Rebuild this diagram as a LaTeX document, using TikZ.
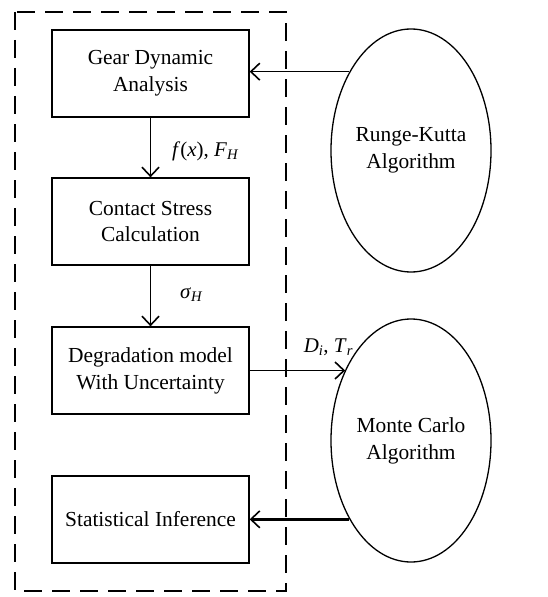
\documentclass[tikz,border=0pt]{standalone}
\usepackage{fontspec}
\setmainfont{Liberation Serif}
\usepackage{tikz}
\usetikzlibrary{arrows.meta,positioning,shapes.geometric}

\begin{document}
\begin{tikzpicture}
		[x=1bp,y=-1bp,
		block/.style={rectangle,draw=black,line width=1.3bp,
			minimum width=197bp,minimum height=87bp,inner sep=0pt,
			align=center,font=\fontsize{21.5}{27}\selectfont},
		algo/.style={ellipse,draw=black,line width=1.3bp,
			minimum width=160bp,minimum height=243bp,inner sep=0pt,
			align=center,font=\fontsize{21.5}{27}\selectfont},
		flow/.style={line width=1.3bp,-{Straight Barb[length=9bp,width=17bp,line width=1.6bp]}},
		lbl/.style={inner sep=0pt,font=\fontsize{21}{24}\selectfont}]
		\useasboundingbox (0,0) rectangle (548,597);
		%---------------------caja punteada------------
		\draw[line width=2bp,dash pattern=on 18bp off 10bp] (15,12) rectangle (286,591);
		%---------------------bloques------------
		\node[block] (gda) at (150.5,73.5) {Gear Dynamic\\Analysis};
		\node[block] (csc) at (150.5,221.5) {Contact Stress\\Calculation};
		\node[block] (dmu) at (150.5,370.5) {Degradation model\\With Uncertainty};
		\node[block] (sti) at (150.5,519.5) {Statistical Inference};
		%---------------------algoritmos------------
		\node[algo] (rk) at (411,150.5) {Runge-Kutta\\Algorithm};
		\node[algo] (mc) at (411,440.5) {Monte Carlo\\Algorithm};
		%---------------------flechas------------
		\draw[flow] (rk.128) -- (rk.128 -| gda.east);
		\draw[flow] (gda) -- (csc)
			node[lbl,midway,right=21bp,yshift=-4bp] {\textit{f}(\textit{x}), \textit{F}\textsubscript{\textit{H}}};
		\draw[flow] (csc) -- (dmu)
			node[lbl,midway,right=29bp,yshift=1bp] {\textit{σ}\textsubscript{\textit{H}}};
		\draw[flow] (dmu.east) -- (mc.133.4 |- dmu.east)
			node[lbl,pos=0.56,anchor=south west,yshift=14bp] {\textit{D}\textsubscript{\textit{i}}, \textit{T}\textsubscript{\textit{r}}};
		\draw[flow,line width=2.5bp] (mc.232) -- (mc.232 -| sti.east);
		\end{tikzpicture}
\end{document}
